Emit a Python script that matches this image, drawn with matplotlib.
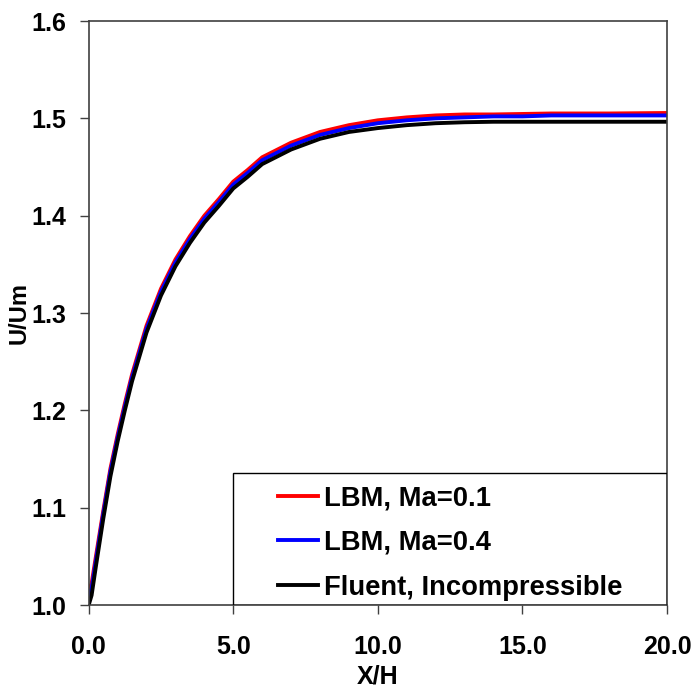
import numpy as np
import matplotlib
matplotlib.use('Agg')
import matplotlib.pyplot as plt
from matplotlib.patches import Rectangle

plt.rcParams['font.family'] = ['Liberation Sans', 'DejaVu Sans']
plt.rcParams['font.weight'] = 'bold'

# X/H positions
x = [0, 0.1, 0.25, 0.5, 0.75, 1.0, 1.25, 1.5, 2.0, 2.5, 3.0, 3.5, 4.0, 4.5, 5.0,
     5.5, 6.0, 7.0, 8.0, 9.0, 10.0, 11.0, 12.0, 13.0, 14.0, 15.0, 16.0, 18.0, 20.0]
# U/Um curves
u_ma01 = [1.015, 1.022, 1.050, 1.096, 1.140, 1.175, 1.207, 1.237, 1.287, 1.325, 1.355,
          1.379, 1.400, 1.417, 1.435, 1.447, 1.460, 1.475, 1.486, 1.493, 1.498, 1.501,
          1.503, 1.504, 1.504, 1.5045, 1.505, 1.505, 1.5055]
u_ma04 = [1.010, 1.017, 1.046, 1.093, 1.137, 1.172, 1.204, 1.234, 1.284, 1.322, 1.352,
          1.376, 1.397, 1.414, 1.432, 1.444, 1.457, 1.472, 1.483, 1.490, 1.495, 1.498,
          1.500, 1.501, 1.502, 1.502, 1.503, 1.503, 1.503]
u_fluent = [1.000, 1.010, 1.040, 1.088, 1.132, 1.168, 1.200, 1.230, 1.280, 1.318, 1.348,
            1.372, 1.393, 1.410, 1.428, 1.440, 1.453, 1.468, 1.479, 1.486, 1.490, 1.493,
            1.495, 1.496, 1.4965, 1.4965, 1.4965, 1.4965, 1.4965]
labels = ['LBM, Ma=0.1', 'LBM, Ma=0.4', 'Fluent, Incompressible']
xticks = [0, 5, 10, 15, 20]
yticks = [1.0, 1.1, 1.2, 1.3, 1.4, 1.5, 1.6]

fig = plt.figure(figsize=(6.93, 6.89), dpi=100)
ax = fig.add_axes([0.128, 0.1219, 0.8345, 0.8476])

ax.plot(x, u_ma01, color='#ff0000', lw=2.8, label=labels[0])
ax.plot(x, u_ma04, color='#0000ff', lw=2.8, label=labels[1])
ax.plot(x, u_fluent, color='black', lw=2.8, label=labels[2])

ax.set_xlim(0, 20)
ax.set_ylim(1.0, 1.6)
ax.set_xticks(xticks)
ax.set_xticklabels(['%.1f' % v for v in xticks])
ax.set_yticks(yticks)
ax.set_yticklabels(['%.1f' % v for v in yticks])
ax.tick_params(direction='out', length=6.3, width=1, color='#404040',
               labelsize=18, top=False, right=False)
ax.tick_params(axis='x', pad=15)
ax.tick_params(axis='y', pad=10)
for s in ax.spines.values():
    s.set_color('#404040')
    s.set_linewidth(1.2)

ax.set_xlabel('X/H', fontsize=18, fontweight='bold', labelpad=4)
ax.set_ylabel('U/Um', fontsize=17, fontweight='bold', labelpad=0)

# legend box
ax.add_patch(Rectangle((0.25, 0), 0.75, 0.2265, transform=ax.transAxes,
                       fill=False, edgecolor='black', lw=1.0, zorder=5))
ax.legend(loc='upper left', bbox_to_anchor=(0.328, 0.205), frameon=False,
          fontsize=19.7, handlelength=1.45, handletextpad=0.2, labelspacing=0.68,
          borderpad=0, borderaxespad=0)

fig.savefig('out.png', dpi=100)
